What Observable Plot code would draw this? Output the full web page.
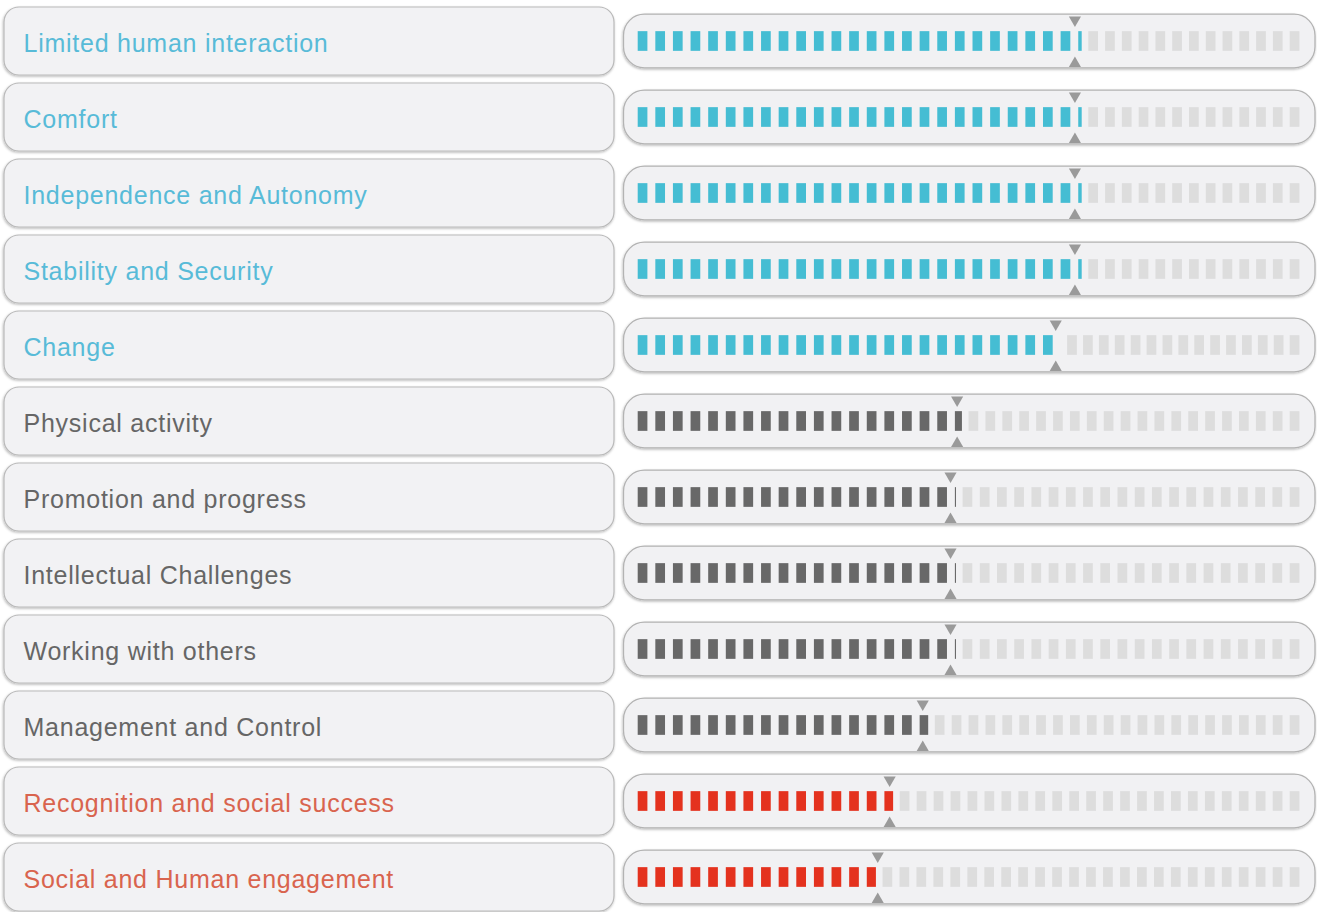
<!DOCTYPE html>
<html><head><meta charset="utf-8">
<script src="https://cdn.jsdelivr.net/npm/d3@7"></script>
<script src="https://cdn.jsdelivr.net/npm/@observablehq/plot@0.6"></script>
<style>
html,body{margin:0;background:#fff} svg{display:block}
.lbl text{letter-spacing:0.75px}
.gseg rect{filter:blur(0.6px)}
</style>
</head><body><div id="chart"></div>
<script>
const categories = [
  "Limited human interaction","Comfort","Independence and Autonomy","Stability and Security","Change",
  "Physical activity","Promotion and progress","Intellectual Challenges","Working with others","Management and Control",
  "Recognition and social success","Social and Human engagement"
];
const groups = ["high","high","high","high","high","mid","mid","mid","mid","mid","low","low"];
const fillValues = [67.1,67.1,67.1,67.1,63.9,49.0,48.1,48.1,48.1,43.9,38.6,36.0];
const markerValues = [66.0,66.0,66.0,66.0,63.1,48.2,47.2,47.2,47.2,43.0,38.0,36.2];

const groupColors = {high:"#45bdd3", mid:"#686868", low:"#e4321e"};
const textColors = {high:"#58bbd8", mid:"#666666", low:"#d9644e"};

const NSEG = 38, W = 1.466, P = (100 - W) / (NSEG - 1), GAP = 1.0;

const rows = categories.map((c, i) => ({cat: c, group: groups[i], fill: fillValues[i], marker: markerValues[i]}));

const colored = [], gray = [];
for (const r of rows) {
  for (let k = 0; k < NSEG; k++) {
    const s = k * P;
    if (s < r.fill) colored.push({cat: r.cat, group: r.group, x1: s, x2: Math.min(s + W, r.fill)});
  }
  const full = Math.floor(r.fill / P);
  const n = NSEG - full;
  const start = r.fill + GAP;
  const pg = (100 - W - start) / (n - 1);
  for (let j = 0; j < n; j++) gray.push({cat: r.cat, x1: start + j * pg, x2: start + j * pg + W});
}

function boxes(index, scales) {
  const g = d3.create("svg:g");
  const defs = g.append("defs");
  const f = defs.append("filter").attr("id","sh").attr("x","-5%").attr("y","-20%").attr("width","110%").attr("height","140%");
  f.append("feDropShadow").attr("dx",-0.5).attr("dy",1.2).attr("stdDeviation",1.1).attr("flood-color","#000").attr("flood-opacity",0.28);
  const bw = scales.y(categories[1]) - scales.y(categories[0]);
  const xa = scales.x(0) - 14.2, xb = scales.x(100) + 15.6;
  for (const c of categories) {
    const cy = scales.y(c) + bw / 2;
    g.append("rect").attr("x",4).attr("y",cy - 34).attr("width",610).attr("height",68).attr("rx",15)
      .attr("fill","#f2f2f4").attr("stroke","#b9b9b9").attr("stroke-width",1.2).attr("filter","url(#sh)");
    g.append("rect").attr("x",xa).attr("y",cy - 26.8).attr("width",xb - xa).attr("height",53.6).attr("rx",21)
      .attr("fill","#f1f1f3").attr("stroke","#b3b3b3").attr("stroke-width",1.3).attr("filter","url(#sh)");
  }
  return g.node();
}

const chart = Plot.plot({
  width: 1317,
  height: 912,
  marginLeft: 23, marginRight: 0, marginTop: 0, marginBottom: 0,
  style: {background: "#fff", fontFamily: "'Liberation Sans', Arial, Helvetica, sans-serif"},
  x: {domain: [0, 100], range: [637.7, 1299.4], axis: null},
  y: {domain: categories, range: [1.0, 1.0 + 76.27 * 12], padding: 0, axis: null},
  color: {domain: Object.keys(groupColors), range: Object.values(groupColors)},
  marks: [
    boxes,
    Plot.rect(gray, {x1: "x1", x2: "x2", y: "cat", insetTop: 28.15, insetBottom: 28.15, fill: "#dddddd", className: "gseg"}),
    Plot.rect(colored, {x1: "x1", x2: "x2", y: "cat", insetTop: 28.15, insetBottom: 28.15, fill: "group"}),
    Plot.dot(rows, {x: "marker", y: "cat", symbol: "triangle", r: 4.5, fill: "#9a9a9a", rotate: 180, dy: -21.5}),
    Plot.dot(rows, {x: "marker", y: "cat", symbol: "triangle", r: 4.5, fill: "#9a9a9a", dy: 22}),
    Plot.text(rows, {y: "cat", text: "cat", frameAnchor: "left", textAnchor: "start", dy: 2,
      fill: d => textColors[d.group], fontSize: 25, className: "lbl"})
  ]
});
document.getElementById("chart").append(chart);
</script>
</body></html>
